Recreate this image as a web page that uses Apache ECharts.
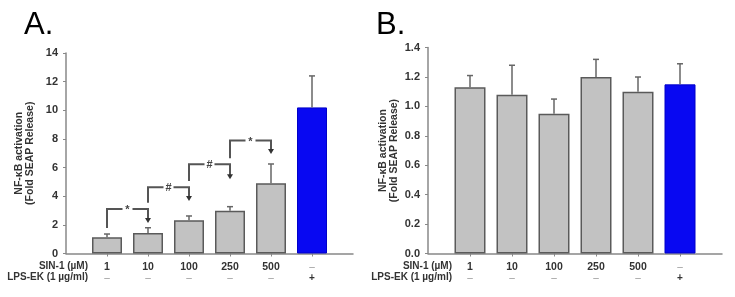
<!DOCTYPE html>
<html>
<head>
<meta charset="utf-8">
<script src="https://cdn.jsdelivr.net/npm/echarts@6/dist/echarts.min.js"></script>
<style>
  html, body { margin: 0; padding: 0; background: #fff; }
  #chart { width: 735px; height: 297px; }
</style>
</head>
<body>
<div id="chart"></div>
<script>
// ---- Data ----
const categories = ['', '1', '10', '100', '250', '500', '–', ''];
const lpsRow = ['', '–', '–', '–', '–', '–', '+', ''];
const rowHeaders = ['SIN-1 (µM)', 'LPS-EK (1 µg/ml)'];

const aMeans = [1.13, 1.43, 2.32, 2.99, 4.9, 10.2];
const aErrUp = [0.23, 0.37, 0.30, 0.28, 1.35, 2.2];
const bMeans = [1.13, 1.08, 0.95, 1.20, 1.10, 1.15];
const bErrUp = [0.08, 0.20, 0.10, 0.12, 0.10, 0.14];

// brackets: [fromIndex, toIndex, topY, leftEndY, rightEndY]
const bracketPos = [
  [1, 2, 3.11, 1.78, 2.20],
  [2, 3, 4.62, 3.55, 3.74],
  [3, 4, 6.23, 5.06, 5.25],
  [4, 5, 7.89, 6.65, 7.02]
];
const bracketLabels = ['*', '#', '#', '*'];

const yTitle = 'NF-κB activation\n(Fold SEAP Release)';
const FONT = 'Liberation Sans, Arial, sans-serif';

const GRAY = '#c2c2c2', GRAY_EDGE = '#5a5a5a';
const BLUE = '#0808f2', BLUE_EDGE = '#0000c8';

function barData(means) {
  return means.map((v, i) => ({
    value: [i + 1, v],
    itemStyle: i === 5
      ? { color: BLUE, borderColor: BLUE_EDGE, borderWidth: 1 }
      : { color: GRAY, borderColor: GRAY_EDGE, borderWidth: 1.5 }
  }));
}
function errData(means, errs) {
  return means.map((v, i) => [i + 1, v, v + errs[i]]);
}

function errRender(params, api) {
  const top = api.coord([api.value(0), api.value(2)]);
  const base = api.coord([api.value(0), api.value(1)]);
  const hw = 3;
  return {
    type: 'group',
    children: [
      { type: 'line', shape: { x1: top[0], y1: base[1], x2: top[0], y2: top[1] },
        style: { stroke: '#666', lineWidth: 1.5 } },
      { type: 'line', shape: { x1: top[0] - hw, y1: top[1], x2: top[0] + hw, y2: top[1] },
        style: { stroke: '#666', lineWidth: 1.5 } }
    ]
  };
}

function bracketRender(params, api) {
  const x1 = api.value(0), x2 = api.value(1);
  const pTopL = api.coord([x1, api.value(2)]);
  const pTopR = api.coord([x2, api.value(2)]);
  const pL = api.coord([x1, api.value(3)]);
  const pR = api.coord([x2, api.value(4)]);
  const mid = (pTopL[0] + pTopR[0]) / 2;
  const label = bracketLabels[params.dataIndex];
  return {
    type: 'group',
    children: [
      { type: 'polyline', shape: { points: [pL, pTopL, pTopR, [pR[0], pR[1] - 3]] },
        style: { stroke: '#555', lineWidth: 2, fill: null } },
      { type: 'polygon', shape: { points: [[pR[0] - 3, pR[1] - 4], [pR[0] + 3, pR[1] - 4], [pR[0], pR[1] + 1]] },
        style: { fill: '#333' } },
      { type: 'rect', shape: { x: mid - 5, y: pTopL[1] - 5, width: 10, height: 10 },
        style: { fill: '#fff' } },
      { type: 'text', x: mid, y: pTopL[1] + 1,
        style: { text: label, fill: '#444', font: 'bold 11px ' + FONT, align: 'center', verticalAlign: 'middle' } }
    ]
  };
}

function styleKey(v, base) {
  return v === '–' ? 'd' : base;
}

const xAxisCommon = {
  type: 'category',
  data: categories,
  boundaryGap: false,
  axisLine: { lineStyle: { color: '#888', width: 1.5 } },
  axisTick: { show: true, length: 3, lineStyle: { color: '#888' },
    interval: (i) => i >= 1 && i <= 6 },
  axisLabel: {
    interval: 0,
    margin: 8,
    formatter: (v, i) => '{' + styleKey(v, 's') + '|' + v + '}\n{' + styleKey(lpsRow[i], 'l') + '|' + lpsRow[i] + '}',
    rich: {
      s: { fontFamily: FONT, fontWeight: 'bold', fontSize: 10.5, color: '#333', lineHeight: 11 },
      l: { fontFamily: FONT, fontWeight: 'bold', fontSize: 10, color: '#333', lineHeight: 11 },
      d: { fontFamily: FONT, fontWeight: 'normal', fontSize: 10, color: '#999', lineHeight: 11 }
    }
  },
  splitLine: { show: false }
};

const yAxisCommon = {
  type: 'value',
  min: 0,
  nameLocation: 'middle',
  nameGap: 30,
  nameTextStyle: { fontFamily: FONT, fontWeight: 'bold', fontSize: 10.5, color: '#333', lineHeight: 11 },
  axisLine: { show: true, lineStyle: { color: '#888', width: 1.5 } },
  axisTick: { show: true, length: 3, lineStyle: { color: '#888' } },
  axisLabel: { fontFamily: FONT, fontWeight: 'bold', fontSize: 11, color: '#333', margin: 8 },
  splitLine: { show: false }
};

const chart = echarts.init(document.getElementById('chart'), null, { renderer: 'canvas' });
chart.setOption({
  animation: false,
  backgroundColor: '#fff',
  title: [
    { text: 'A.', left: 19, top: 5, textStyle: { fontFamily: FONT, fontWeight: 'normal', fontSize: 31, color: '#000' } },
    { text: 'B.', left: 371, top: 5, textStyle: { fontFamily: FONT, fontWeight: 'normal', fontSize: 31, color: '#000' } }
  ],
  grid: [
    { left: 66, top: 53, width: 287, bottom: 43.5 },
    { left: 428, top: 47.6, width: 294, bottom: 43.5 }
  ],
  xAxis: [
    Object.assign({ gridIndex: 0 }, xAxisCommon),
    Object.assign({ gridIndex: 1 }, xAxisCommon)
  ],
  yAxis: [
    Object.assign({}, yAxisCommon, { gridIndex: 0, max: 14, interval: 2, name: yTitle }),
    Object.assign({}, yAxisCommon, { gridIndex: 1, max: 1.4, interval: 0.2, name: yTitle, nameGap: 28,
      axisLabel: Object.assign({}, yAxisCommon.axisLabel, { formatter: (v) => v.toFixed(1) }) })
  ],
  graphic: [
    { type: 'text', right: 735 - 88, top: 261, style: { text: rowHeaders[0], font: 'bold 10px ' + FONT, fill: '#333', align: 'right' } },
    { type: 'text', right: 735 - 88, top: 272, style: { text: rowHeaders[1], font: 'bold 10px ' + FONT, fill: '#333', align: 'right' } },
    { type: 'text', right: 735 - 452, top: 261, style: { text: rowHeaders[0], font: 'bold 10px ' + FONT, fill: '#333', align: 'right' } },
    { type: 'text', right: 735 - 452, top: 272, style: { text: rowHeaders[1], font: 'bold 10px ' + FONT, fill: '#333', align: 'right' } }
  ],
  series: [
    { type: 'bar', xAxisIndex: 0, yAxisIndex: 0, barWidth: 30, data: barData(aMeans) },
    { type: 'custom', xAxisIndex: 0, yAxisIndex: 0, renderItem: errRender, data: errData(aMeans, aErrUp), z: 3 },
    { type: 'custom', xAxisIndex: 0, yAxisIndex: 0, renderItem: bracketRender, data: bracketPos, z: 4 },
    { type: 'bar', xAxisIndex: 1, yAxisIndex: 1, barWidth: 31, data: barData(bMeans) },
    { type: 'custom', xAxisIndex: 1, yAxisIndex: 1, renderItem: errRender, data: errData(bMeans, bErrUp), z: 3 }
  ]
});
</script>
</body>
</html>
